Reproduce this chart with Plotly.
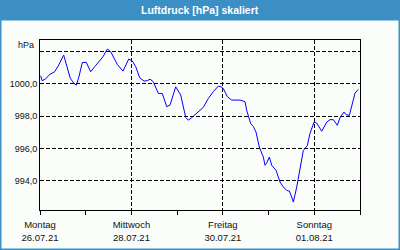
import plotly.graph_objects as go

times = [
    "2021-07-26 00:22", "2021-07-26 01:03", "2021-07-26 02:47", "2021-07-26 05:05", "2021-07-26 07:43",
    "2021-07-26 09:49", "2021-07-26 12:26", "2021-07-26 13:49", "2021-07-26 15:55", "2021-07-26 17:51",
    "2021-07-26 19:04", "2021-07-26 20:19", "2021-07-26 22:13", "2021-07-27 00:19", "2021-07-27 02:37",
    "2021-07-27 04:43", "2021-07-27 07:21", "2021-07-27 09:05", "2021-07-27 11:20", "2021-07-27 13:07",
    "2021-07-27 16:35", "2021-07-27 19:35", "2021-07-27 22:34", "2021-07-28 00:28", "2021-07-28 02:15",
    "2021-07-28 04:21", "2021-07-28 06:36", "2021-07-28 08:20", "2021-07-28 09:45", "2021-07-28 11:29",
    "2021-07-28 14:07", "2021-07-28 16:13", "2021-07-28 18:31", "2021-07-28 20:15", "2021-07-28 23:15",
    "2021-07-29 01:52", "2021-07-29 04:30", "2021-07-29 05:52", "2021-07-29 07:39", "2021-07-29 09:23",
    "2021-07-29 13:44", "2021-07-29 16:22", "2021-07-29 18:59", "2021-07-29 21:37", "2021-07-29 23:02",
    "2021-07-30 00:14", "2021-07-30 02:20", "2021-07-30 04:39", "2021-07-30 07:17", "2021-07-30 09:01",
    "2021-07-30 11:38", "2021-07-30 12:32", "2021-07-30 14:38", "2021-07-30 16:00", "2021-07-30 17:25",
    "2021-07-30 19:09", "2021-07-30 21:15", "2021-07-30 22:08", "2021-07-30 23:02", "2021-07-31 00:24",
    "2021-07-31 01:39", "2021-07-31 03:55", "2021-07-31 06:01", "2021-07-31 07:45", "2021-07-31 09:32",
    "2021-07-31 10:54", "2021-07-31 12:09", "2021-07-31 13:00", "2021-07-31 14:47", "2021-07-31 15:37",
    "2021-07-31 16:31", "2021-07-31 18:15", "2021-07-31 20:21", "2021-07-31 21:46", "2021-07-31 23:52",
    "2021-08-01 01:17", "2021-08-01 03:55", "2021-08-01 06:32", "2021-08-01 08:16", "2021-08-01 10:00",
    "2021-08-01 12:06", "2021-08-01 13:31", "2021-08-01 15:37", "2021-08-01 16:40", "2021-08-01 18:24",
    "2021-08-01 20:11", "2021-08-01 21:23", "2021-08-01 23:07",
]
pressure = [
    1000.49, 1000.19, 1000.28, 1000.57, 1000.74,
    1001.15, 1001.77, 1001.25, 1000.33, 1000.02,
    999.91, 1000.37, 1001.31, 1001.31, 1000.74,
    1001.05, 1001.40, 1001.67, 1002.14, 1001.98,
    1001.19, 1000.78, 1001.52, 1001.40, 1001.05,
    1000.37, 1000.16, 1000.19, 1000.28, 1000.12,
    999.40, 999.40, 998.58, 998.68, 999.81,
    999.30, 997.92, 997.75, 997.90, 998.10,
    998.54, 999.09, 999.51, 999.85, 999.81,
    999.71, 999.20, 998.99, 999.00, 998.99,
    998.89, 998.35, 997.53, 997.36, 997.01,
    996.09, 995.47, 994.96, 995.10, 995.47,
    994.96, 994.65, 993.93, 993.62, 993.41,
    993.37, 993.00, 992.69, 993.62, 994.23,
    994.90, 995.88, 996.19, 996.93, 997.63,
    997.57, 997.06, 997.63, 997.78, 997.78,
    997.43, 997.90, 998.25, 998.09, 998.04,
    998.93, 999.42, 999.65,
]

x_tickvals = ["2021-07-26", "2021-07-28", "2021-07-30", "2021-08-01"]
x_ticktext = ["Montag<br>26.07.21", "Mittwoch<br>28.07.21", "Freitag<br>30.07.21", "Sonntag<br>01.08.21"]
y_tickvals = [994, 996, 998, 1000, 1002]
y_ticktext = ["994,0", "996,0", "998,0", "1000,0", ""]
title_text = "Luftdruck [hPa] skaliert"
unit_text = "hPa"

W, H = 400, 250
ML, MR, MT, MB = 40, 40, 40, 40
PW, PH = W - ML - MR, H - MT - MB


def px_x(p):
    return (p - ML) / PW


def px_y(p):
    return (H - MB - p) / PH


BLUE = "#3b8fc5"
FONT = "Liberation Sans"
TXT = "#111111"

fig = go.Figure()
fig.add_trace(go.Scatter(x=times, y=pressure, mode="lines",
                         line=dict(color="#0000ff", width=1), showlegend=False,
                         hoverinfo="skip"))

fig.update_layout(
    width=W, height=H,
    margin=dict(l=ML, r=MR, t=MT, b=MB, autoexpand=False),
    paper_bgcolor="#fbfdfb", plot_bgcolor="#fbfdfb",
    font=dict(family=FONT, size=9, color=TXT),
    showlegend=False,
)
fig.update_xaxes(
    range=["2021-07-26 00:00", "2021-08-02 00:00"],
    tickmode="array", tickvals=x_tickvals, ticktext=x_ticktext,
    ticks="outside", ticklen=4, tickcolor="black", tickwidth=1,
    ticklabelstandoff=2, automargin=False,
    minor=dict(ticks="outside", ticklen=4, tickcolor="black", dtick=86400000,
               tick0="2021-07-26", showgrid=False),
    showgrid=True, gridcolor="black", gridwidth=1, griddash="4px,2px",
    showline=True, linecolor="black", linewidth=1, mirror=True,
    zeroline=False, tickfont=dict(family=FONT, size=9.5, color=TXT),
)
fig.update_yaxes(
    range=[992.2, 1002.7], automargin=False,
    tickmode="array", tickvals=y_tickvals, ticktext=y_ticktext,
    ticks="", showgrid=True, gridcolor="black", gridwidth=1, griddash="4px,2px",
    showline=True, linecolor="black", linewidth=1, mirror=True,
    zeroline=False, tickfont=dict(family=FONT, size=9, color=TXT),
)

# title bar
fig.add_shape(type="rect", xref="paper", yref="paper",
              x0=px_x(0), x1=px_x(W), y0=px_y(20.5), y1=px_y(0),
              fillcolor=BLUE, line=dict(width=0), layer="below")
# outer border
fig.add_shape(type="rect", xref="paper", yref="paper",
              x0=px_x(0), x1=px_x(W), y0=px_y(H), y1=px_y(0),
              fillcolor="rgba(0,0,0,0)", line=dict(color=BLUE, width=3))

fig.add_annotation(text="<b>" + title_text + "</b>", xref="paper", yref="paper",
                   x=px_x(200), y=px_y(10), xanchor="center", yanchor="middle",
                   showarrow=False, font=dict(family=FONT, size=10.5, color="white"))
fig.add_annotation(text=unit_text, xref="paper", yref="paper",
                   x=px_x(36), y=px_y(45), xanchor="right", yanchor="middle",
                   showarrow=False, font=dict(family=FONT, size=9, color=TXT))

fig.write_html("out.html")
